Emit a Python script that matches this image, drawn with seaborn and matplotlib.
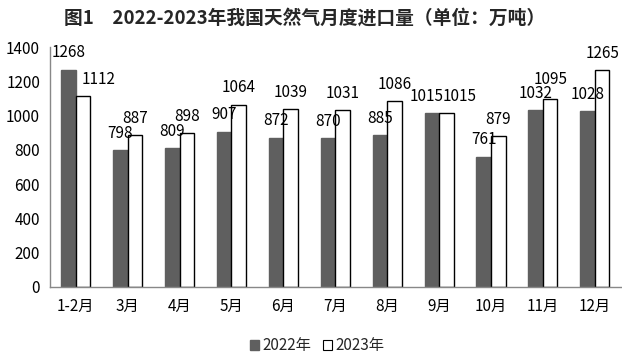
"""
Monthly natural gas imports, 2022 vs 2023 (grouped bar chart).
"""

import matplotlib.pyplot as plt
import pandas as pd
import seaborn as sns
from matplotlib.patches import Patch

months = ["1-2月", "3月", "4月", "5月", "6月", "7月", "8月", "9月", "10月", "11月", "12月"]
imports_2022 = [1268, 798, 809, 907, 872, 870, 885, 1015, 761, 1032, 1028]
imports_2023 = [1112, 887, 898, 1064, 1039, 1031, 1086, 1015, 879, 1095, 1265]
years = ["2022年", "2023年"]

df = pd.DataFrame(
    {
        "month": months * 2,
        "year": [years[0]] * len(months) + [years[1]] * len(months),
        "value": imports_2022 + imports_2023,
    }
)

sns.set_theme(style="white")
plt.rcParams["font.family"] = ["Noto Sans CJK SC", "DejaVu Sans"]

fig = plt.figure(figsize=(6.22, 3.6), dpi=100)
ax = fig.add_axes([0.080, 0.203, 0.918, 0.666])

sns.barplot(
    data=df,
    x="month",
    y="value",
    hue="year",
    palette=["#5f5f5f", "white"],
    width=0.56,
    gap=0,
    linewidth=1.0,
    edgecolor="black",
    legend=False,
    ax=ax,
)

# dark bars have no outline
for patch in ax.containers[0]:
    patch.set_edgecolor("#5f5f5f")

# label nudges (points) for labels that would collide, as in the original
nudges = {(1, 0): (11, 6), (0, 7): (-3.5, 6), (1, 7): (9.5, 6), (1, 9): (0, 8.5)}
for k, (container, values) in enumerate(zip(ax.containers, [imports_2022, imports_2023])):
    for i, (patch, value) in enumerate(zip(container, values)):
        ax.annotate(
            f"{value}",
            (patch.get_x() + patch.get_width() / 2, patch.get_height()),
            xytext=nudges.get((k, i), (0, 6)),
            textcoords="offset points",
            ha="center",
            va="bottom",
            fontsize=11,
            color="black",
        )

ax.set_ylim(0, 1400)
ax.set_yticks(range(0, 1401, 200))
ax.set_xlim(-0.5, len(months) - 0.5)
ax.set_xlabel("")
ax.set_ylabel("")
ax.tick_params(axis="x", length=0, labelsize=11, pad=8, colors="black")
ax.tick_params(axis="y", length=3, labelsize=11, pad=4, direction="out", labelcolor="black", color="#888888")

sns.despine(ax=ax, top=True, right=True)
for side in ["left", "bottom"]:
    ax.spines[side].set_color("#888888")
    ax.spines[side].set_linewidth(1.0)

handles = [
    Patch(facecolor="#5f5f5f", edgecolor="#5f5f5f"),
    Patch(facecolor="white", edgecolor="black", linewidth=0.8),
]
fig.legend(
    handles,
    years,
    loc="center",
    bbox_to_anchor=(0.51, 0.04),
    ncol=2,
    frameon=False,
    fontsize=11,
    handlelength=0.6,
    handleheight=0.6,
    handletextpad=0.2,
    columnspacing=0.8,
)

fig.text(
    0.49,
    0.95,
    "图1　2022-2023年我国天然气月度进口量（单位：万吨）",
    ha="center",
    va="center",
    fontsize=13.5,
    fontweight="bold",
)

fig.savefig("out.png", dpi=100)
plt.close(fig)
